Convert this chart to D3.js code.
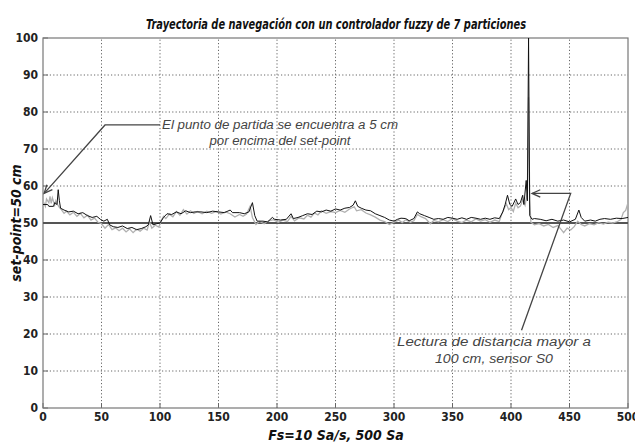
<!DOCTYPE html>
<html><head><meta charset="utf-8">
<script src="https://cdn.jsdelivr.net/npm/d3@7"></script>
<style>body{margin:0;background:#fff}svg{display:block}</style>
</head><body>
<svg id="c" width="635" height="442"></svg>
<script>
// ---- data ----
const titleText = "Trayectoria de navegación con un controlador fuzzy de 7 particiones";
const xLabelText = "Fs=10 Sa/s, 500 Sa";
const yLabelText = "set-point=50 cm";
const xTicks = [0,50,100,150,200,250,300,350,400,450,500];
const yTicks = [0,10,20,30,40,50,60,70,80,90,100];
const setPoint = 50;

const blackX = [0,4,5,9,10,12,13,14,15,18,22,26,30,34,38,42,46,49,52,55,57,60,64,68,72,76,80,84,88,90,92,94,97,100,103,106,110,114,118,122,126,130,135,140,145,150,155,160,162,168,172,176,179,181,183,188,192,196,198,203,208,212,214,218,222,226,230,234,238,242,246,250,254,258,262,265,267,269,272,276,280,284,288,292,296,300,303,306,310,313,317,320,322,326,330,334,338,342,346,350,354,358,362,366,370,374,378,382,386,390,393,395,397,399,401,404,406,408,410,411,413,414,415,416,418,420,425,430,435,440,445,450,455,458,460,463,468,472,476,480,485,490,495,500];
const blackY = [55,55,54.5,54.5,55.5,55,59,56,54,53.5,53,53.2,52.5,52.8,52,51.5,51.8,51,50.5,51,49.5,49,48.8,49.2,48.5,48.8,48.2,48.5,49,49.5,52,49.5,49.8,50,51.5,52.5,52.3,53,52.5,53.3,52.8,53,53,52.8,53.2,53,52.8,53.5,52.8,52.8,52.5,53,55.5,52,50.5,50.5,50.3,51.5,51,50.8,51,52.5,51.2,51.5,52,52.5,52.3,53.2,53,53.5,53.2,53.8,53.5,54,54.2,54.8,56,54.5,54,53.5,53.3,52.5,52,51.5,50.8,50.5,51,51.3,51.2,50.6,51.2,53,52.5,52,51.5,51,51.2,51,51.5,51.3,51,51.4,51,51.5,51.3,51,51.3,51,51.4,51.2,53,55,57.5,55,54.5,56.5,55,55.5,57.5,55,61.5,56,100,52,51,51.2,51,50.6,51,50.5,50.8,50.3,51,53.5,51.5,50.5,50.8,50.5,51,51.2,51,51.3,51.2,51.5];

const grayX = [0,2,3,5,6,7,8,10,11,12,14,16,18,20,23,26,29,32,35,38,41,44,47,50,53,56,59,62,65,68,71,74,77,80,83,86,89,91,93,96,99,101,103,105,108,111,114,117,120,123,126,129,132,136,140,144,148,152,156,160,164,168,171,174,177,179,182,185,189,193,197,201,205,209,212,215,219,223,226,229,232,235,238,242,246,250,254,258,262,266,268,272,276,280,284,288,292,296,300,304,307,310,314,317,320,323,327,331,334,338,342,346,350,354,358,362,366,370,374,378,382,386,390,392,394,396,398,400,402,404,406,408,410,412,414,415,416,417,420,424,428,432,436,440,443,445,448,451,454,457,460,463,467,471,475,479,483,487,491,494,496,498,500];
const grayY = [56,54.5,56.5,55.5,57.2,55.3,56.8,54.8,56,55.2,54.2,53.5,52.6,53.2,52.2,52.9,51.8,52.6,51.4,52.1,50.8,51.3,50.2,49.8,48.6,49.6,48.2,48.7,47.9,48.6,47.6,48.4,47.4,48.3,47.8,48.6,48.1,50.3,48.6,49.4,48.9,50.6,51.8,51.2,52.4,51.7,53.1,52.1,53.6,52.4,53.3,52.6,53.1,52.5,53.2,52.6,53.1,52.4,53,52.5,51.6,52.3,51.8,52.4,54.5,51.5,49.6,50.4,49.8,50.6,50.9,50.2,50.8,50.4,51.8,50.6,51.4,51.1,52.1,51.6,52.7,52.2,53.3,52.6,53.1,52.8,53.4,52.9,53.8,54.4,53.3,53.6,52.7,52.2,51.6,50.8,50.4,49.6,50.2,50.8,50.1,50.9,50.2,50.6,52.3,51.7,51.2,49.8,50.7,50.3,50.9,50.4,51.2,50.5,50.1,50.8,50.3,51.1,50.5,50.9,50.2,50.8,50.4,52.3,53.8,55.2,53.6,54.2,53.1,55.4,54.1,54.6,56.2,54.8,58.2,84,56,50.2,49.5,49.8,49.2,49.6,48.8,49.3,48.2,47.4,48.6,48.1,49,50.5,49.6,49.2,49.8,49.5,50.1,49.7,50.2,50,50.4,50.9,52.8,53.4,55.5];

const note1 = ["El  punto de partida se encuentra  a 5 cm", "por encima del set-point"];
const note2 = ["Lectura de distancia mayor a", "100 cm, sensor S0"];

// ---- drawing ----
const svg = d3.select("#c");
const x = d3.scaleLinear().domain([0,500]).range([43,628]);
const y = d3.scaleLinear().domain([0,100]).range([408,38]);
const narrow = "'Liberation Sans Narrow','DejaVu Sans Condensed','Liberation Sans',sans-serif";

svg.append("defs").append("clipPath").attr("id","clip")
  .append("rect").attr("x",x(0)).attr("y",y(100)).attr("width",x(500)-x(0)).attr("height",y(0)-y(100));

// grid
const grid = svg.append("g");
grid.selectAll("line.vx").data(xTicks.slice(1,-1)).join("line")
  .attr("x1",d=>x(d)).attr("x2",d=>x(d)).attr("y1",y(0)).attr("y2",y(100))
  .attr("stroke","#555").attr("stroke-width",0.9).attr("stroke-dasharray","1.2,2.2");
grid.selectAll("line.hy").data(yTicks.slice(1,-1)).join("line")
  .attr("x1",x(0)).attr("x2",x(500)).attr("y1",d=>y(d)).attr("y2",d=>y(d))
  .attr("stroke","#555").attr("stroke-width",0.9).attr("stroke-dasharray","1.2,2.2");

// inward tick marks
grid.selectAll("line.tx").data(xTicks).join("line")
  .attr("x1",d=>x(d)).attr("x2",d=>x(d)).attr("y1",y(0)).attr("y2",y(0)-5)
  .attr("stroke","#666").attr("stroke-width",1);
grid.selectAll("line.ty").data(yTicks).join("line")
  .attr("x1",x(0)).attr("x2",x(0)+5).attr("y1",d=>y(d)).attr("y2",d=>y(d))
  .attr("stroke","#666").attr("stroke-width",1);

// box
svg.append("rect").attr("x",x(0)).attr("y",y(100)).attr("width",x(500)-x(0)).attr("height",y(0)-y(100))
  .attr("fill","none").attr("stroke","#777").attr("stroke-width",1.2);

// set-point line
svg.append("line").attr("x1",x(0)).attr("x2",x(500)).attr("y1",y(setPoint)).attr("y2",y(setPoint))
  .attr("stroke","#555").attr("stroke-width",2);

// series
const plot = svg.append("g").attr("clip-path","url(#clip)");
const line = d3.line().x(d=>x(d[0])).y(d=>y(d[1]));
plot.append("path").datum(d3.zip(grayX,grayY)).attr("d",line)
  .attr("fill","none").attr("stroke","#b0b0b0").attr("stroke-width",1.3);
plot.append("path").datum(d3.zip(blackX,blackY)).attr("d",line)
  .attr("fill","none").attr("stroke","#111").attr("stroke-width",1);

// tick labels
svg.append("g").selectAll("text").data(xTicks).join("text")
  .attr("x",d=>x(d)).attr("y",y(0)+13).attr("text-anchor","middle")
  .attr("font-family",narrow).attr("font-weight","bold").attr("font-size",12).attr("fill","#222")
  .text(d=>d);
svg.append("g").selectAll("text").data(yTicks).join("text")
  .attr("x",x(0)-5).attr("y",d=>y(d)+4).attr("text-anchor","end")
  .attr("font-family",narrow).attr("font-weight","bold").attr("font-size",12).attr("fill","#222")
  .text(d=>d);

// title & axis labels
svg.append("text").attr("x",336).attr("y",29).attr("text-anchor","middle")
  .attr("font-family",narrow).attr("font-weight","bold").attr("font-style","italic").attr("font-size",14)
  .attr("textLength",380).attr("lengthAdjust","spacingAndGlyphs").attr("fill","#111").text(titleText);
svg.append("text").attr("x",336).attr("y",440).attr("text-anchor","middle")
  .attr("font-family",narrow).attr("font-weight","bold").attr("font-style","italic").attr("font-size",14)
  .attr("fill","#111").text(xLabelText);
svg.append("text").attr("transform",`translate(21,${y(50)}) rotate(-90)`).attr("text-anchor","middle")
  .attr("font-family",narrow).attr("font-weight","bold").attr("font-style","italic").attr("font-size",14)
  .attr("fill","#111").text(yLabelText);

// annotations
const ann = svg.append("g").attr("stroke","#444").attr("stroke-width",1.3).attr("fill","none");
function arrowHead(tx,ty,fx,fy){
  const a = Math.atan2(ty-fy,tx-fx), L=9, s=0.42;
  ann.append("path").attr("d",`M${tx-L*Math.cos(a-s)},${ty-L*Math.sin(a-s)}L${tx},${ty}L${tx-L*Math.cos(a+s)},${ty-L*Math.sin(a+s)}`);
}
// note 1 leader (anchored at data point: x=0, y≈57)
const p1 = [x(1), y(58)], c1 = [x(53), y(76.5)], e1 = [x(100), y(76.5)];
ann.append("path").attr("d",`M${e1[0]},${e1[1]}L${c1[0]},${c1[1]}L${p1[0]},${p1[1]}`);
arrowHead(p1[0],p1[1],c1[0],c1[1]);
// note 2 leader (points at spike near sample 415)
const p2 = [x(418), y(58)], c2 = [x(451), y(58)], e2 = [x(409), y(21)];
ann.append("path").attr("d",`M${e2[0]},${e2[1]}L${c2[0]},${c2[1]}L${p2[0]},${p2[1]}`);
arrowHead(p2[0],p2[1],c2[0],c2[1]);

const tf = "'Liberation Sans','DejaVu Sans',sans-serif";
svg.append("g").selectAll("text").data(note1).join("text")
  .attr("x",280).attr("y",(d,i)=>129+i*16).attr("text-anchor","middle")
  .attr("font-family",tf).attr("font-style","italic").attr("font-size",12).attr("fill","#444")
  .attr("textLength",(d,i)=>i?141:236).attr("lengthAdjust","spacingAndGlyphs").text(d=>d);
svg.append("g").selectAll("text").data(note2).join("text")
  .attr("x",494).attr("y",(d,i)=>346+i*17).attr("text-anchor","middle")
  .attr("font-family",tf).attr("font-style","italic").attr("font-size",12).attr("fill","#444")
  .attr("textLength",(d,i)=>i?118:194).attr("lengthAdjust","spacingAndGlyphs").text(d=>d);
</script>
</body></html>
